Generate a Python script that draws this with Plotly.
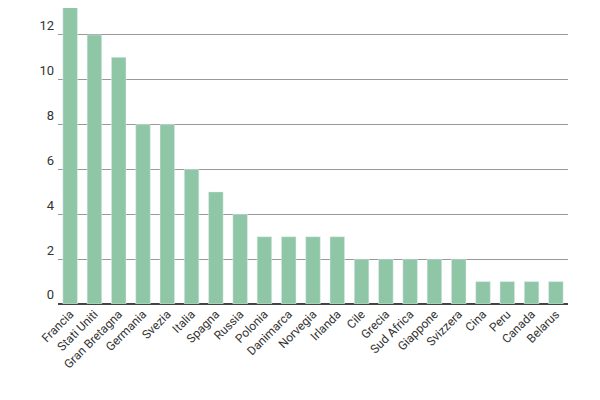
import plotly.graph_objects as go

countries = ["Francia","Stati Uniti","Gran Bretagna","Germania","Svezia","Italia","Spagna","Russia",
             "Polonia","Danimarca","Norvegia","Irlanda","Cile","Grecia","Sud Africa","Giappone",
             "Svizzera","Cina","Peru","Canada","Belarus"]
values = [15,12,11,8,8,6,5,4,3,3,3,3,2,2,2,2,2,1,1,1,1]

fig = go.Figure(go.Bar(x=countries, y=values, marker_color="#8fc6a6", width=0.6))
fig.update_layout(
    width=600, height=400, plot_bgcolor="white", paper_bgcolor="white",
    margin=dict(l=50, r=40, t=0, b=104), showlegend=False,
    font=dict(family="Roboto", size=12, color="#333"),
)
fig.update_yaxes(range=[0, 13.2], tickvals=[0,2,4,6,8,10,12], gridcolor="#999", gridwidth=1,
                 zeroline=True, zerolinecolor="#444", zerolinewidth=2,
                 ticklabelposition="outside top", ticklabelstandoff=3,
                 tickfont=dict(size=13))
fig.update_xaxes(tickangle=-45, showgrid=False, tickfont=dict(size=12))
fig.write_html("out.html")
